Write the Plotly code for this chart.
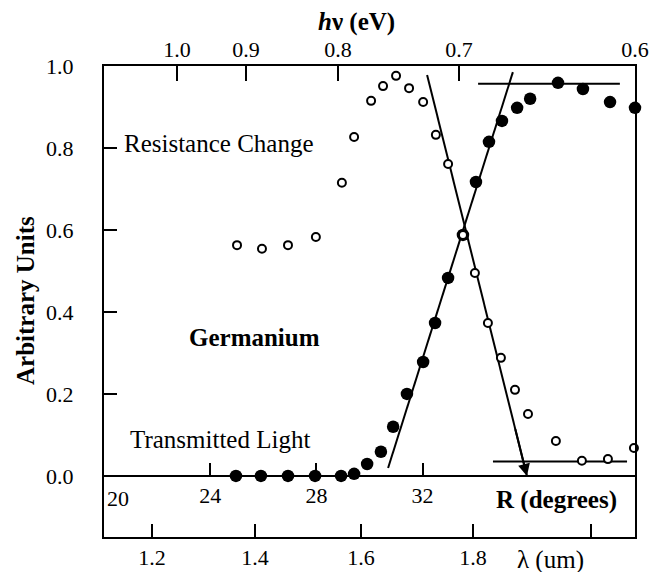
import plotly.graph_objects as go

# ---- data ----
trans_R = [24.97, 25.91, 26.93, 27.95, 28.93, 29.42, 29.91, 30.43, 30.89, 31.41, 32.02, 32.47,
           32.96, 33.52, 34.01, 34.50, 34.99, 35.56, 36.05, 37.10, 38.04, 39.06, 40.0]
trans_val = [0.0, 0.0, 0.0, 0.0, 0.0, 0.005, 0.029, 0.059, 0.12, 0.20, 0.278, 0.373,
             0.483, 0.588, 0.717, 0.815, 0.866, 0.898, 0.920, 0.959, 0.944, 0.912, 0.898]

resist_R = [25.01, 25.95, 26.93, 27.98, 28.96, 29.42, 30.06, 30.51, 31.0, 31.49, 32.02, 32.5,
            32.96, 33.52, 33.97, 34.46, 34.95, 35.48, 35.97, 37.02, 38.0, 38.98, 39.96]
resist_val = [0.563, 0.554, 0.563, 0.583, 0.715, 0.827, 0.915, 0.951, 0.976, 0.946, 0.912, 0.832,
              0.761, 0.588, 0.495, 0.373, 0.288, 0.210, 0.151, 0.085, 0.037, 0.041, 0.068]

rise_fit_R = [30.70, 35.40]
rise_fit_val = [0.0195, 0.985]
fall_fit_R = [32.17, 35.93]
fall_fit_val = [0.978, 0.0]
top_level_R = [34.09, 39.43]
top_level_val = [0.957, 0.957]
bot_level_R = [34.65, 39.70]
bot_level_val = [0.035, 0.035]

y_ticks = [0.0, 0.2, 0.4, 0.6, 0.8, 1.0]
y_ticktext = ["0.0", "0.2", "0.4", "0.6", "0.8", "1.0"]
R_ticks = [24, 28, 32]
R_ticktext = ["24", "28", "32"]
lam_ticktext = ["1.2", "1.4", "1.6", "1.8", ""]
lam_tick_R = [21.81, 25.69, 29.68, 33.90, 38.34]
hv_ticktext = ["1.0", "0.9", "0.8", "0.7", "0.6"]
hv_tick_R = [22.75, 25.35, 28.81, 33.37, 40.0]

X_RANGE = [20, 40]
Y_RANGE = [-0.149, 1.0]
FONT = "Liberation Serif"

fig = go.Figure()

for xs, ys in [(rise_fit_R, rise_fit_val), (fall_fit_R, fall_fit_val),
               (top_level_R, top_level_val), (bot_level_R, bot_level_val)]:
    fig.add_trace(go.Scatter(x=xs, y=ys, mode="lines",
                             line=dict(color="black", width=2), showlegend=False))

fig.add_trace(go.Scatter(x=trans_R, y=trans_val, mode="markers", cliponaxis=False,
                         marker=dict(symbol="circle", size=12.5, color="black"),
                         showlegend=False))
fig.add_trace(go.Scatter(x=resist_R, y=resist_val, mode="markers", cliponaxis=False,
                         marker=dict(symbol="circle", size=8, color="white",
                                     line=dict(color="black", width=2)),
                         showlegend=False))

# arrow head at the lower end of the falling fit line
tail_x = fall_fit_R[1] + 0.12 * (fall_fit_R[0] - fall_fit_R[1])
tail_y = fall_fit_val[1] + 0.12 * (fall_fit_val[0] - fall_fit_val[1])
fig.add_annotation(x=fall_fit_R[1], y=fall_fit_val[1], ax=tail_x, ay=tail_y,
                   xref="x", yref="y", axref="x", ayref="y", text="",
                   showarrow=True, arrowhead=2, arrowsize=1.2, arrowwidth=2,
                   arrowcolor="black")

tick_font = dict(family=FONT, size=22, color="black")
lab_font = dict(family=FONT, size=25, color="black")

fig.update_layout(
    template="none",
    width=651, height=572,
    margin=dict(l=104, r=16, t=66, b=35, autoexpand=False),
    paper_bgcolor="white", plot_bgcolor="white",
    xaxis=dict(range=X_RANGE, showgrid=False, zeroline=False, automargin=False,
               showline=True, mirror=True, linecolor="black", linewidth=2,
               ticks="inside", ticklen=13, tickwidth=2, tickcolor="black",
               tickmode="array", tickvals=lam_tick_R, ticktext=lam_ticktext,
               tickfont=tick_font, ticklabelstandoff=0),
    xaxis2=dict(range=X_RANGE, overlaying="x", side="top", anchor="y", automargin=False,
                showgrid=False, zeroline=False, showline=False,
                ticks="inside", ticklen=15, tickwidth=2, tickcolor="black",
                tickmode="array", tickvals=hv_tick_R, ticktext=hv_ticktext,
                tickfont=tick_font, ticklabelstandoff=4),
    xaxis3=dict(range=X_RANGE, overlaying="x", side="bottom", anchor="free",
                position=(0 - Y_RANGE[0]) / (Y_RANGE[1] - Y_RANGE[0]), automargin=False,
                showgrid=False, zeroline=False, showline=True,
                linecolor="black", linewidth=2,
                ticks="inside", ticklen=12, tickwidth=2, tickcolor="black",
                tickmode="array", tickvals=R_ticks, ticktext=R_ticktext,
                tickfont=tick_font, ticklabelstandoff=0),
    yaxis=dict(range=Y_RANGE, showgrid=False, zeroline=False, automargin=False,
               showline=True, mirror=True, linecolor="black", linewidth=2,
               ticks="inside", ticklen=13, tickwidth=2, tickcolor="black",
               tickmode="array", tickvals=y_ticks, ticktext=y_ticktext,
               tickfont=tick_font, ticklabelstandoff=24),
)

# invisible traces so overlay axes are rendered
fig.add_trace(go.Scatter(x=[20], y=[0], xaxis="x2", mode="markers",
                         marker=dict(opacity=0), showlegend=False, hoverinfo="skip"))
fig.add_trace(go.Scatter(x=[20], y=[0], xaxis="x3", mode="markers",
                         marker=dict(opacity=0), showlegend=False, hoverinfo="skip"))

# text labels
def label(x, y, text, font, xref="x", yref="y", xanchor="center", angle=0):
    fig.add_annotation(x=x, y=y, xref=xref, yref=yref, text=text, showarrow=False,
                       xanchor=xanchor, yanchor="middle", textangle=angle, font=font)

label(20.68, 0.81, "Resistance Change", lab_font, xanchor="left")
label(23.13, 0.337, "<b>Germanium</b>", lab_font, xanchor="left")
label(20.90, 0.088, "Transmitted Light", lab_font, xanchor="left")
label(37.06, -0.0585, "<b>R (degrees)</b>", lab_font)
label(20.53, -0.055, "20", tick_font)
label(36.8, -0.0488, "λ (um)", lab_font, yref="paper")
label(0.476, 1.093, "<b><i>h</i>ν (eV)</b>", lab_font, xref="paper", yref="paper")
label(-0.149, 0.503, "<b>Arbitrary Units</b>", lab_font, xref="paper", yref="paper", angle=-90)

fig.write_html("out.html", config={"displayModeBar": False},
               post_script="document.body.style.margin='0';document.body.style.overflow='hidden';")
